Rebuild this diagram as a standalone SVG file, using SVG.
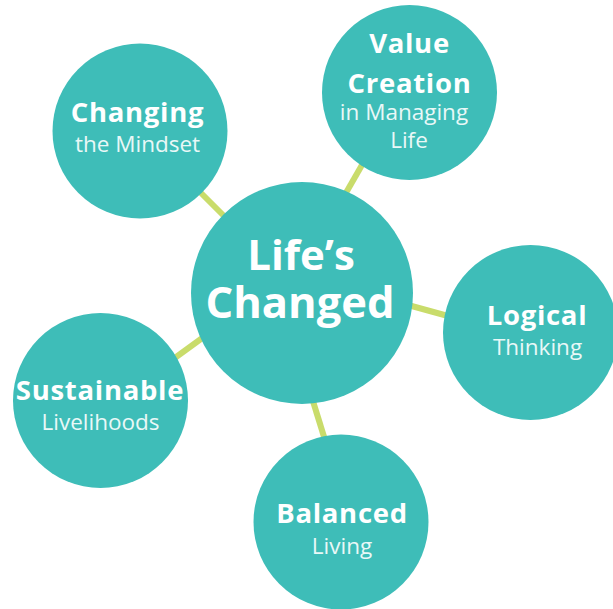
<svg xmlns="http://www.w3.org/2000/svg" width="613" height="609" viewBox="0 0 613 609">
<style>
.c{fill:#3ebdb8}
.l{stroke:#c9dc6b;stroke-width:6;stroke-linecap:butt}
text{font-family:"Open Sans","Noto Sans",sans-serif;text-anchor:middle;fill:#ffffff}
.b{font-weight:700;font-size:27.5px;letter-spacing:0.7px}
.s{fill:#e9f8f7;font-weight:400;font-size:22.5px}
</style>
<rect width="613" height="609" fill="#ffffff"/>
<g id="connectors">
<line class="l" x1="196" y1="188" x2="228" y2="220"/>
<line class="l" x1="343" y1="198" x2="366" y2="158"/>
<line class="l" x1="408" y1="305" x2="448" y2="316"/>
<line class="l" x1="172" y1="360" x2="205" y2="336"/>
<line class="l" x1="312" y1="398" x2="325" y2="440"/>
</g>
<g id="center">
<circle class="c" cx="302" cy="293" r="111"/>
<text font-weight="700" x="301" y="270" font-size="42">Life’s</text>
<text font-weight="700" x="300" y="318" font-size="43.5">Changed</text>
</g>
<g id="changing">
<circle class="c" cx="140" cy="131" r="87.5"/>
<text class="b" x="137.5" y="122">Changing</text>
<text class="s" x="137.5" y="152">the Mindset</text>
</g>
<g id="value">
<circle class="c" cx="409.5" cy="92.5" r="87.5"/>
<text class="b" x="409.5" y="53">Value</text>
<text class="b" x="409.5" y="93">Creation</text>
<text class="s" x="404" y="120">in Managing</text>
<text class="s" x="409" y="148">Life</text>
</g>
<g id="logical">
<circle class="c" cx="530.5" cy="332.5" r="87.5"/>
<text class="b" x="537" y="325">Logical</text>
<text class="s" x="537.5" y="355">Thinking</text>
</g>
<g id="sustainable">
<circle class="c" cx="100.5" cy="400.5" r="87.5"/>
<text class="b" x="100" y="400">Sustainable</text>
<text class="s" x="100.5" y="430">Livelihoods</text>
</g>
<g id="balanced">
<circle class="c" cx="341" cy="522" r="87.5"/>
<text class="b" x="342" y="523">Balanced</text>
<text class="s" x="342" y="554">Living</text>
</g>
</svg>
